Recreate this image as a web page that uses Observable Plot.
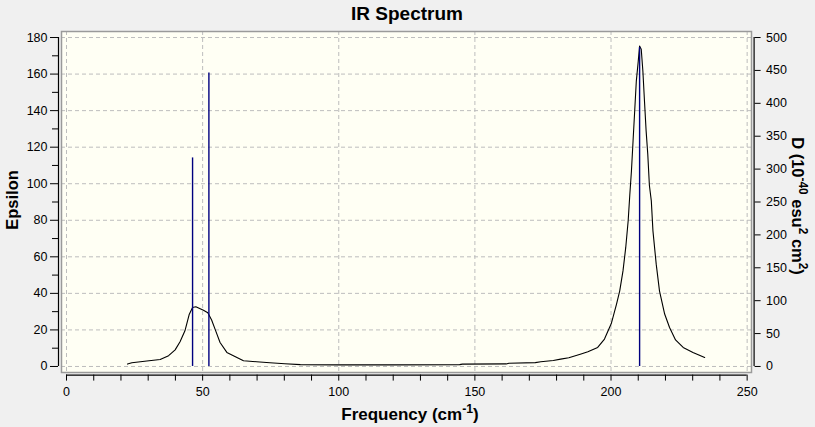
<!DOCTYPE html>
<html><head><meta charset="utf-8">
<script src="https://cdn.jsdelivr.net/npm/d3@7"></script>
<script src="https://cdn.jsdelivr.net/npm/@observablehq/plot@0.6"></script>
<style>
html,body{margin:0;padding:0;background:#f0f0f0;}
#chart svg{display:block;}
</style></head><body><div id="chart"></div>
<script>
// Broadened IR spectrum (Epsilon vs frequency)
const curveFreq = [22.4,24.0,29.5,34.4,37.5,39.9,41.7,43.5,45.1,46.3,47.5,50.3,51.9,53.3,54.8,56.4,58.9,61.3,65.0,69.8,74.7,80.2,85.9,99.6,120,144.4,145.4,161.5,162.5,172.2,174.2,178.8,181.5,184.5,189.0,191.5,195.1,197.6,200.1,202.0,203.2,204.4,205.4,206.3,206.9,207.5,208.1,208.7,209.3,210.0,210.5,211.1,211.7,212.3,212.9,213.5,214.1,214.8,215.4,216.6,217.8,219.7,221.5,223.7,226.5,230.1,234.4];
const curveEps  = [1.3,2.0,3.0,3.8,5.9,9.1,13.5,19.5,28.6,32.3,32.7,30.8,29.4,25.4,19.5,13.1,7.7,5.9,3.1,2.6,2.0,1.5,1.0,0.9,0.9,1.0,1.3,1.4,1.8,2.1,2.6,3.3,4.0,4.8,6.8,8.0,10.4,15.0,23.5,34,41.4,52.3,65,79.7,94,107,123.5,139.9,156.3,167,175.4,173.6,161.7,145,128.8,116.2,99,90.6,74.2,56,41.4,28.7,21.3,14.5,10.4,7.7,4.9];
// Stick spectrum (D, right axis)
const stickFreq = [46.3, 52.3, 210.5];
const stickD    = [317, 446, 485];
// Ticks
const epsTicks  = [0,20,40,60,80,100,120,140,160,180];
const epsMinor  = [10,30,50,70,90,110,130,150,170];
const dTicks    = [0,50,100,150,200,250,300,350,400,450,500];
const freqTicks = [0,50,100,150,200,250];
const freqMinor = [10,20,30,40,60,70,80,90,110,120,130,140,160,170,180,190,210,220,230,240];
const epsPerD = 180/500;

const xDomain = [-1.84, 251.6];
const yDomain = [-3.3, 183.3];

const curve  = curveFreq.map((f,i)=>({f, e: curveEps[i]}));
const sticks = stickFreq.map((f,i)=>({f, d: stickD[i]}));

const font = "'Liberation Sans', Arial, sans-serif";
const grid = {stroke:"#bdbdbd", strokeOpacity:1, strokeDasharray:"4,3", strokeWidth:1};

const plot = Plot.plot({
  width: 815, height: 427,
  marginLeft: 61, marginRight: 64, marginTop: 31, marginBottom: 55,
  x: {domain: xDomain},
  y: {domain: yDomain},
  style: {background:"#f0f0f0", fontFamily: font, fontSize:"12.5px", color:"#000", overflow:"visible"},
  marks: [
    Plot.frame({fill:"#fffff4", stroke:"none"}),
    Plot.gridX(freqTicks, grid),
    Plot.gridY(epsTicks, grid),
    Plot.frame({stroke:"#9a9a9a", strokeWidth:1.5}),
    Plot.line(curve, {x:"f", y:"e", stroke:"#000", strokeWidth:1.1}),
    Plot.ruleX(sticks, {x:"f", y1:0, y2: d => d.d*epsPerD, stroke:"#00007f", strokeWidth:1.4}),
    // left axis
    Plot.ruleX([xDomain[0]], {y1:0, y2:180, dx:-3, stroke:"#000", strokeWidth:1.2}),
    Plot.axisY(epsTicks, {anchor:"left", dx:-3, tickSize:8, tickPadding:3, label:null}),
    Plot.axisY(epsMinor, {anchor:"left", dx:-3, tickSize:6, tickFormat:()=>"", label:null}),
    // right axis (D)
    Plot.ruleX([xDomain[1]], {y1:0, y2:180, dx:2.6, stroke:"#000", strokeWidth:1.2}),
    Plot.axisY(dTicks.map(v=>v*epsPerD), {anchor:"right", dx:2.6, tickSize:6, tickPadding:6, tickFormat: v => String(Math.round(v/epsPerD)), label:null}),
    // bottom axis
    Plot.ruleY([yDomain[0]], {x1:0, x2:250, dy:2.6, stroke:"#000", strokeWidth:1.2}),
    Plot.axisX(freqTicks, {anchor:"bottom", dy:2.6, tickSize:6, tickPadding:6, label:null}),
    Plot.axisX(freqMinor, {anchor:"bottom", dy:2.6, tickSize:6, tickFormat:()=>"", label:null})
  ]
});
document.getElementById("chart").appendChild(plot);

// titles with superscripts
const svg = d3.select(plot);
function addLabel(x, y, rot, parts, size) {
  const t = svg.append("text")
    .attr("transform", `translate(${x},${y}) rotate(${rot})`)
    .attr("text-anchor","middle")
    .attr("font-family", font)
    .attr("font-weight","bold")
    .attr("font-size", size)
    .attr("fill","#000")
    .attr("dy","0.35em");
  let shifted = false;
  parts.forEach(p => {
    const sup = typeof p !== "string";
    const txt = sup ? p.sup : p;
    const s = t.append("tspan").text(txt);
    if (sup) {
      s.attr("font-size", size*0.72);
      if (!shifted) { s.attr("dy", -size*0.42); shifted = true; }
    } else if (shifted) {
      s.attr("dy", size*0.42); shifted = false;
    }
  });
}
addLabel(407, 13, 0, ["IR Spectrum"], 19);
addLabel(12, 200, -90, ["Epsilon"], 16.5);
addLabel(410, 414, 0, ["Frequency (cm", {sup:"-1"}, ")"], 17);
addLabel(798, 206, 90, ["D (10", {sup:"-40"}, " esu", {sup:"2"}, " cm", {sup:"2"}, ")"], 16.5);
</script>
</body></html>
